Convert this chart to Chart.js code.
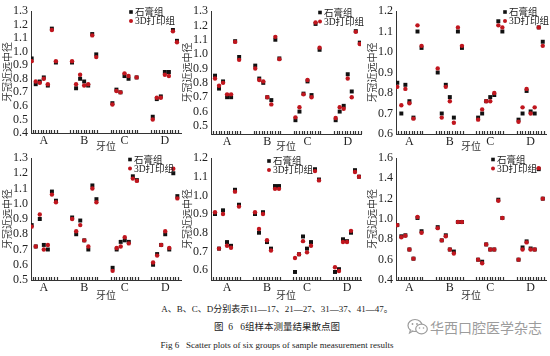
<!DOCTYPE html>
<html><head><meta charset="utf-8">
<script src="https://cdn.jsdelivr.net/npm/chart.js@4.4.0/dist/chart.umd.min.js"></script>
<style>
html,body{margin:0;padding:0;background:#fff;}
body{width:550px;height:356px;position:relative;overflow:hidden;font-family:"Liberation Serif","Noto Sans CJK SC",serif;}
canvas{position:absolute;}
.cap{position:absolute;left:2px;width:550px;text-align:center;color:#222;white-space:nowrap;font-family:"Liberation Serif","Noto Sans CJK SC",serif;}
#wm{position:absolute;left:430px;top:318px;font:14px "Noto Sans CJK SC",sans-serif;color:#9c9c9c;line-height:18px;white-space:nowrap;}
#icon{position:absolute;left:407px;top:318px;}
</style></head><body>
<canvas id="c1" width="185" height="152" style="left:0px;top:0px"></canvas>
<canvas id="c2" width="185" height="152" style="left:180px;top:0px"></canvas>
<canvas id="c3" width="185" height="152" style="left:365px;top:0px"></canvas>
<canvas id="c4" width="185" height="155" style="left:0px;top:146px"></canvas>
<canvas id="c5" width="185" height="155" style="left:180px;top:146px"></canvas>
<canvas id="c6" width="185" height="155" style="left:365px;top:146px"></canvas>
<div class="cap" style="top:303px;font-size:9px;line-height:12px">A、B、C、D分别表示11—17、21—27、31—37、41—47。</div>
<div class="cap" style="top:321px;font-size:9.5px;line-height:12px">图&nbsp; 6&nbsp;&nbsp; 6组样本测量结果散点图</div>
<div class="cap" style="top:339px;font-size:9px;line-height:12px">Fig 6&nbsp;&nbsp; Scatter plots of six groups of sample measurement results</div>
<svg id="icon" width="22" height="18" viewBox="0 0 22 18">
  <ellipse cx="8" cy="7.5" rx="7" ry="6" fill="#fff" stroke="#9c9c9c" stroke-width="1.2"/>
  <path d="M3.5 12 L2.5 15 L6 13" fill="#fff" stroke="#9c9c9c" stroke-width="1.1"/>
  <ellipse cx="14.5" cy="11" rx="5.8" ry="4.8" fill="#fff" stroke="#9c9c9c" stroke-width="1.2"/>
  <circle cx="5.5" cy="6" r="0.9" fill="#9c9c9c"/><circle cx="10" cy="6" r="0.9" fill="#9c9c9c"/>
  <circle cx="12.5" cy="10" r="0.8" fill="#9c9c9c"/><circle cx="16.5" cy="10" r="0.8" fill="#9c9c9c"/>
</svg>
<div id="wm">华西口腔医学杂志</div>
<script>
// ---- data ----
const groups = ['A', 'B', 'C', 'D'];
const teethPerGroup = 7;
const seriesNames = ['石膏组', '3D打印组'];

// panel 1
const p1Stone = [0.95,0.76,0.78,0.81,0.75,1.17,0.92, 0.92,0.73,0.80,0.78,0.75,1.13,0.98, 0.62,0.72,0.70,0.82,0.80,null,0.81, 0.52,0.65,0.67,0.85,0.85,1.16,1.08];
const p1Print = [0.93,0.78,0.77,0.80,0.76,1.16,0.93, 0.93,0.76,0.83,0.75,0.76,1.12,0.96, 0.61,0.71,0.70,0.84,0.82,null,0.81, 0.50,0.66,0.66,0.83,0.82,1.15,1.07];
// panel 2
const p2Stone = [0.85,0.76,0.81,0.70,0.70,1.09,0.98, 0.92,0.83,0.80,0.70,0.68,1.10,0.97, 0.54,0.60,0.725,0.81,0.715,1.21,1.03, 0.54,0.60,0.64,0.86,0.74,1.16,1.08];
const p2Print = [0.83,0.78,0.80,0.72,0.72,1.085,0.96, 0.90,0.82,0.81,0.70,0.65,1.12,0.965, 0.56,0.63,0.72,0.82,0.70,1.22,1.045, 0.555,0.63,0.62,0.83,0.70,1.155,1.07];
// panel 3
const p3Stone = [0.85,0.70,0.84,0.76,0.68,1.10,1.02, 0.90,0.70,0.84,0.78,0.68,1.10,1.02, 0.68,0.70,0.76,0.78,0.79,1.15,1.10, 0.67,0.70,0.81,0.71,0.70,1.12,1.05];
const p3Print = [0.83,0.74,0.82,0.75,0.675,1.13,1.03, 0.92,0.68,0.83,0.76,0.655,1.12,1.03, 0.67,0.72,0.76,0.76,0.80,1.13,1.12, 0.66,0.73,0.82,0.70,0.73,1.12,1.03];
// panel 4
const p4Stone = [0.86,0.72,0.90,0.73,0.70,1.08,1.02, 0.91,0.80,0.89,0.76,0.70,1.12,1.03, 0.58,0.70,0.75,0.76,0.75,1.18,1.155, 0.60,0.67,0.73,0.80,0.70,1.20,1.05];
const p4Print = [0.85,0.72,0.93,0.70,0.73,1.06,1.01, 0.90,0.82,0.86,0.76,0.72,1.10,1.01, 0.56,0.71,0.72,0.78,0.74,1.165,1.15, 0.615,0.66,0.73,0.82,0.71,1.23,1.035];
// panel 5
const p5Stone = [0.90,0.715,0.92,0.75,0.73,1.03,0.95, 0.90,0.80,0.91,0.75,0.715,1.05,1.05, 0.59,0.685,0.78,0.715,0.75,1.14,1.085, 0.59,0.605,0.765,0.755,0.80,1.135,1.10];
const p5Print = [0.91,0.715,0.90,0.73,0.72,1.02,0.94, 0.91,0.82,0.90,0.76,0.705,1.035,1.035, 0.665,0.685,0.755,0.695,0.73,1.13,1.08, 0.615,0.595,0.75,0.75,0.81,1.125,1.10];
// panel 6
const p6Stone = [0.94,0.83,0.84,0.70,0.61,1.01,0.88, 0.92,0.79,0.84,0.70,0.68,0.97,0.97, 0.60,0.58,0.75,0.70,0.70,1.19,1.01, 0.60,0.72,0.78,0.71,0.70,1.49,1.20];
const p6Print = [0.94,0.82,0.835,0.70,0.61,1.02,0.865, 0.91,0.79,0.83,0.70,0.66,0.97,0.97, 0.60,0.565,0.75,0.70,0.70,1.18,1.01, 0.60,0.70,0.77,0.70,0.70,1.50,1.20];

// y tick labels
const yTicks1 = [0.4,0.5,0.6,0.7,0.8,0.9,1.0,1.1,1.2,1.3];
const yTicks2 = [0.5,0.6,0.7,0.8,0.9,1.0,1.1,1.2,1.3];
const yTicks3 = [0.6,0.7,0.8,0.9,1.0,1.1,1.2];
const yTicks4 = [0.5,0.6,0.7,0.8,0.9,1.0,1.1,1.2,1.3];
const yTicks5 = [0.6,0.7,0.8,0.9,1.0,1.1,1.2];
const yTicks6 = [0.4,0.6,0.8,1.0,1.2,1.4,1.6];

// ---- layout (page coordinates of each plot area) ----
const panels = [
  {id:'c1', cx:0,   cy:0,   W:185, H:152, area:{l:31, t:11, r:182, b:133}, xr:[-0.17,37.0], yr:[0.4,1.3],  yt:yTicks1, s:p1Stone, p:p1Print, leg:[131,12]},
  {id:'c2', cx:180, cy:0,   W:185, H:152, area:{l:211,t:11, r:362, b:134}, xr:[-1.0,36.3],  yr:[0.444,1.3],yt:yTicks2, s:p2Stone, p:p2Print, leg:[320,12.5]},
  {id:'c3', cx:365, cy:0,   W:185, H:152, area:{l:396,t:11, r:547, b:134}, xr:[-0.32,36.8], yr:[0.6,1.2],  yt:yTicks3, s:p3Stone, p:p3Print, leg:[505,12]},
  {id:'c4', cx:0,   cy:146, W:185, H:155, area:{l:31, t:158,r:182, b:280}, xr:[-0.17,36.9], yr:[0.5,1.3],  yt:yTicks4, s:p4Stone, p:p4Print, leg:[130,159.5]},
  {id:'c5', cx:180, cy:146, W:185, H:155, area:{l:211,t:158,r:362, b:280}, xr:[-1.0,36.5],  yr:[0.547,1.2],yt:yTicks5, s:p5Stone, p:p5Print, leg:[269,161]},
  {id:'c6', cx:365, cy:146, W:185, H:155, area:{l:396,t:158,r:547, b:280}, xr:[-0.32,36.8], yr:[0.4,1.6],  yt:yTicks6, s:p6Stone, p:p6Print, leg:[493,159.5]}
];

const BLACK = '#111111', RED = '#c0161e', AXIS = '#333333', TXT = '#222222';
const serif = '"Liberation Serif","Noto Sans CJK SC",serif';
const cjk = '"Noto Sans CJK SC","Liberation Serif",sans-serif';

function toPoints(vals) {
  const out = [];
  vals.forEach((v, i) => {
    if (v === null) return;
    out.push({x: Math.floor(i / teethPerGroup) * 10 + (i % teethPerGroup), y: v});
  });
  return out;
}

// inward tick marks along the bottom axis, only under each tooth group
const inwardTicks = {
  id: 'inwardTicks',
  afterDraw(chart) {
    const xs = chart.scales.x, ctx = chart.ctx, b = chart.chartArea.bottom;
    ctx.save();
    ctx.strokeStyle = AXIS; ctx.lineWidth = 1.2;
    groups.forEach((g, gi) => {
      for (let k = 0; k <= 10; k++) {
        const v = gi * 10 - 0.4 + k * 0.66;
        if (v < xs.min || v > xs.max) continue;
        const px = Math.round(xs.getPixelForValue(v)) + 0.5;
        ctx.beginPath(); ctx.moveTo(px, b); ctx.lineTo(px, b - 3); ctx.stroke();
      }
    });
    ctx.restore();
  }
};

// legend drawn inside the plot
const insideLegend = {
  id: 'insideLegend',
  afterDraw(chart, args, opts) {
    const ctx = chart.ctx;
    ctx.save();
    chart.data.datasets.forEach((ds, i) => {
      const x = opts.x, y = opts.y + i * 9;
      ctx.fillStyle = ds.backgroundColor;
      if (ds.pointStyle === 'rect') ctx.fillRect(x - 1.8, y - 1.8, 3.6, 3.6);
      else { ctx.beginPath(); ctx.arc(x, y, 2, 0, Math.PI * 2); ctx.fill(); }
      ctx.fillStyle = TXT;
      ctx.font = '9.5px ' + serif;
      ctx.textBaseline = 'middle';
      ctx.fillText(ds.label, x + 4, y + 0.5);
    });
    ctx.restore();
  }
};

panels.forEach(P => {
  const a = P.area;
  new Chart(document.getElementById(P.id), {
    type: 'scatter',
    data: {
      datasets: [
        {label: seriesNames[0], data: toPoints(P.s), pointStyle: 'rect', pointRadius: 2.8, backgroundColor: BLACK, borderWidth: 0, order: 1},
        {label: seriesNames[1], data: toPoints(P.p), pointStyle: 'circle', pointRadius: 2.2, backgroundColor: RED, borderWidth: 0, order: 0}
      ]
    },
    options: {
      responsive: false, animation: false, events: [],
      layout: {padding: {left: 0, top: a.t - P.cy, right: P.cx + P.W - a.r, bottom: 0}},
      plugins: {legend: {display: false}, tooltip: {enabled: false},
        insideLegend: {x: P.leg[0] - P.cx, y: P.leg[1] - P.cy}},
      scales: {
        x: {
          type: 'linear', min: P.xr[0], max: P.xr[1],
          grid: {display: false, drawTicks: false},
          border: {display: true, color: AXIS, width: 1},
          afterBuildTicks: s => { s.ticks = groups.map((g, i) => ({value: i * 10 + 3})); },
          afterFit: s => { s.height = P.cy + P.H - a.b; },
          ticks: {autoSkip: false, maxRotation: 0, padding: 1, color: TXT, font: {family: serif, size: 12},
            callback: (v, i) => groups[i]},
          title: {display: true, text: '牙位', color: '#333', font: {family: cjk, size: 10}, padding: 0}
        },
        y: {
          type: 'linear', min: P.yr[0], max: P.yr[1],
          grid: {display: false, drawTicks: false},
          border: {display: true, color: AXIS, width: 1},
          afterBuildTicks: s => { s.ticks = P.yt.map(v => ({value: v})); },
          afterFit: s => { s.width = a.l - P.cx; },
          ticks: {autoSkip: false, padding: 3, color: TXT, font: {family: serif, size: 12}, callback: v => Number(v).toFixed(1)},
          title: {display: true, text: '牙冠近远中径', color: '#333', font: {family: cjk, size: 10}, padding: {top: 1, bottom: 0}}
        }
      }
    },
    plugins: [inwardTicks, insideLegend]
  });
});
</script>
</body></html>
